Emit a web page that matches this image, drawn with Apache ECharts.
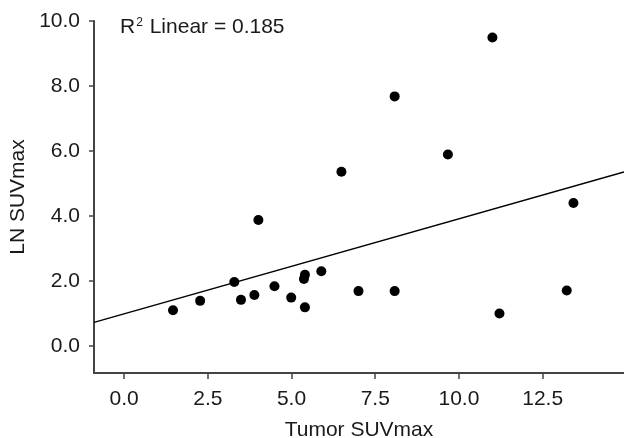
<!DOCTYPE html>
<html>
<head>
<meta charset="utf-8">
<script src="https://cdn.jsdelivr.net/npm/echarts@6/dist/echarts.min.js"></script>
<style>html,body{margin:0;padding:0;background:#fff}#c{width:624px;height:438px}</style>
</head>
<body>
<div id="c"></div>
<script>
var tumorSUV = [1.46, 2.27, 3.29, 3.49, 3.89, 4.01, 4.49, 4.99, 5.40, 5.37, 5.40, 5.89, 6.49, 7.00, 8.08, 8.08, 9.67, 11.00, 11.21, 13.22, 13.42];
var lnSUV    = [1.10, 1.39, 1.97, 1.42, 1.57, 3.88, 1.84, 1.49, 2.19, 2.06, 1.19, 2.30, 5.36, 1.69, 7.68, 1.69, 5.89, 9.49, 1.00, 1.71, 4.40];
var xTicks = [0, 2.5, 5, 7.5, 10, 12.5];
var yTicks = [0, 2, 4, 6, 8, 10];
var xRange = [-0.9, 14.93];
var yRange = [-0.83, 10];
var r2Text = '0.185';
var fitIntercept = 0.99;
var fitSlope = 0.2925;

var fitLine = [[xRange[0], fitIntercept + fitSlope*xRange[0]], [xRange[1], fitIntercept + fitSlope*xRange[1]]];
var pts = tumorSUV.map(function(x, i){ return [x, lnSUV[i]]; });
var FONT = '"Liberation Sans", Arial, sans-serif';
var AX = '#444';
var TXT = '#1a1a1a';

var chart = echarts.init(document.getElementById('c'), null, {renderer: 'canvas'});
chart.setOption({
  animation: false,
  backgroundColor: '#fff',
  grid: {left: 94, right: 0, top: 21, bottom: 65, containLabel: false, outerBoundsMode: 'none'},
  xAxis: {
    type: 'value', min: xRange[0], max: xRange[1],
    name: 'Tumor SUVmax', nameLocation: 'middle', nameGap: 47,
    nameTextStyle: {fontFamily: FONT, fontSize: 21, color: TXT},
    axisLine: {show: true, onZero: false, lineStyle: {color: AX, width: 2}},
    axisTick: {show: true, length: 6, customValues: xTicks, lineStyle: {color: AX, width: 1.5}},
    axisLabel: {customValues: xTicks, margin: 16, fontFamily: FONT, fontSize: 21, color: TXT,
      formatter: function(v){ return v.toFixed(1); }},
    splitLine: {show: false}
  },
  yAxis: {
    type: 'value', min: yRange[0], max: yRange[1],
    name: 'LN SUVmax', nameLocation: 'middle', nameGap: 59,
    nameTextStyle: {fontFamily: FONT, fontSize: 21, color: TXT},
    axisLine: {show: true, onZero: false, lineStyle: {color: AX, width: 2}},
    axisTick: {show: true, length: 5, customValues: yTicks, lineStyle: {color: AX, width: 1.5}},
    axisLabel: {customValues: yTicks, margin: 14, fontFamily: FONT, fontSize: 21, color: TXT,
      formatter: function(v){ return v.toFixed(1); }},
    splitLine: {show: false}
  },
  graphic: [{
    type: 'text', left: 120, top: 17,
    style: {
      text: '{a|R}{s|2}{a| Linear = ' + r2Text + '}',
      rich: {
        a: {fontFamily: FONT, fontSize: 21, fill: TXT, verticalAlign: 'bottom'},
        s: {fontFamily: FONT, fontSize: 12, fill: TXT, verticalAlign: 'top', padding: [0, 1, 0, 1]}
      }
    }
  }],
  series: [{
    type: 'line', data: fitLine, showSymbol: false, silent: true,
    lineStyle: {color: '#000', width: 1.5}, z: 1
  }, {
    type: 'scatter', data: pts, symbol: 'circle', symbolSize: 10,
    itemStyle: {color: '#000', opacity: 1}, z: 2
  }]
});
</script>
</body>
</html>
